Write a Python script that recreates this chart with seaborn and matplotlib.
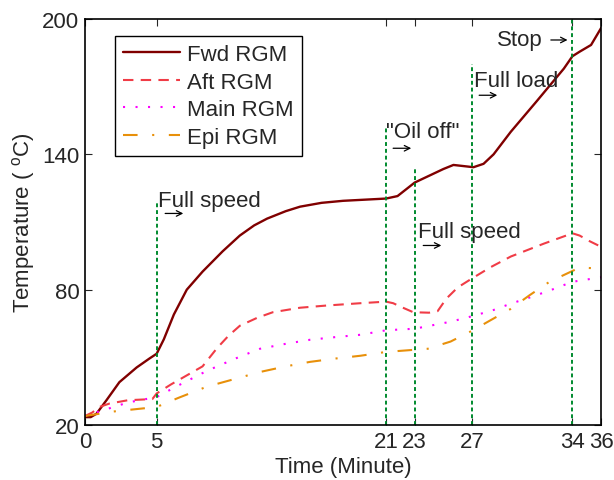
import numpy as np
import pandas as pd
import seaborn as sns
import matplotlib
matplotlib.use('Agg')
import matplotlib.pyplot as plt

# values (time in minutes, temperature in C)
fwd_t = [0, 0.4, 0.8, 1.5, 2.4, 3.6, 4.5, 5.0, 5.5, 6.2, 7.1, 8.2, 9.6, 10.8, 11.8, 12.7, 14.0, 15.0, 16.5, 18.0, 19.5, 21.0,
         21.8, 22.5, 23.0, 24.0, 25.0, 25.7, 26.4, 27.1, 27.8, 28.5, 29.7, 31.5, 33.4, 34.0, 34.5, 35.3, 36.0]
fwd_y = [23.5, 23.5, 25, 31, 39, 45.5, 49.5, 51.6, 58, 69, 80, 88, 97, 104, 108.5, 111.5, 114.8, 116.8, 118.5, 119.4, 119.9, 120.4,
         121.5, 125, 127.5, 130.5, 133.5, 135.3, 134.8, 134.3, 135.8, 140, 150, 163.5, 178, 183.5, 185.5, 188.5, 196]

aft_t = [0, 0.5, 1.0, 1.7, 3.0, 4.7, 5.0, 6.0, 7.1, 8.2, 9.2, 10.0, 10.8, 12.0, 13.1, 15.0, 16.9, 19.2, 21.0, 21.5, 22.0, 22.9,
         24.0, 24.6, 25.2, 26.0, 27.0, 28.3, 29.7, 32.0, 34.0, 34.5, 35.2, 36.0]
aft_y = [24, 25.5, 28, 29.5, 31, 31.5, 34, 38, 42, 46, 54, 59.5, 64, 67.5, 70, 72, 73, 74, 74.7, 74, 72.5, 70,
         69.8, 70.5, 76, 81, 85, 90, 94.7, 100.4, 105, 104, 101.5, 99]

main_t = [0, 0.5, 1.5, 3.0, 5.0, 6.5, 8.5, 10.5, 12.2, 14.0, 15.7, 17.5, 19.2, 21.0, 23.0, 25.5, 27.1, 28.5, 29.7, 31.0, 32.4, 34.0, 35.0, 36.0]
main_y = [24, 25, 27, 30, 32.4, 37.5, 44, 49.5, 53.8, 56, 57.8, 59, 60, 62, 62.7, 65.8, 68.4, 71, 73.8, 76.5, 79.6, 83.5, 84.5, 85.5]

epi_t = [0, 0.5, 2.0, 5.0, 6.5, 8.5, 10.5, 12.2, 14.0, 15.7, 17.5, 19.2, 21.0, 23.9, 25.5, 27.0, 28.3, 29.7, 31.0, 32.4, 34.5, 35.2, 36.0]
epi_y = [24, 24.5, 26, 28, 32, 37, 40.5, 43.5, 46, 48, 49.5, 50.7, 52.4, 53.8, 57, 61.8, 66.5, 71.5, 77.5, 83.5, 89.8, 89.6, 89.5]

events = [5, 21, 23, 27, 34]
event_tops = [119, 151.5, 134.5, 180, 200]
xticks = [0, 5, 21, 23, 27, 34, 36]
yticks = [20, 80, 140, 200]

sns.set_style("ticks")
plt.rcParams['font.family'] = ['Liberation Sans', 'DejaVu Sans']
plt.rcParams['mathtext.fontset'] = 'custom'
plt.rcParams['mathtext.rm'] = 'Liberation Sans'
plt.rcParams['mathtext.it'] = 'Liberation Sans'

fig = plt.figure(figsize=(6.14, 4.81), dpi=100)
ax = fig.add_axes([0.1384, 0.1143, 0.8406, 0.8441])

fs = 16
sns.lineplot(x=fwd_t, y=fwd_y, ax=ax, color='#800000', lw=1.7, label='Fwd RGM')
sns.lineplot(x=aft_t, y=aft_y, ax=ax, color='#F03C46', lw=1.5, label='Aft RGM')
sns.lineplot(x=main_t, y=main_y, ax=ax, color='#FF00FF', lw=1.5, label='Main RGM')
sns.lineplot(x=epi_t, y=epi_y, ax=ax, color='#E8900A', lw=1.5, label='Epi RGM')
lines = ax.get_lines()
lines[1].set_dashes([5, 3.5])
lines[2].set_dashes([1, 5])
lines[3].set_dashes([7, 7, 1, 7])

for t, top in zip(events, event_tops):
    ax.plot([t, t], [20, top], color='#008a2e', lw=1.4, ls=(0, (2, 1.5)))

# annotations: label text, then a short arrow beneath it
notes = [(5.1, 119.6, 'Full speed', 5.4, 113.8, 7.05),
         (21.0, 150.2, '"Oil off"', 21.3, 142.7, 22.95),
         (23.2, 105.8, 'Full speed', 23.4, 99.6, 25.05),
         (27.15, 172.9, 'Full load', 27.3, 166.2, 28.95)]
for x, y, txt, a0, ay, a1 in notes:
    ax.text(x, y, txt, fontsize=fs, ha='left', va='center')
    ax.annotate('', xy=(a1, ay), xytext=(a0, ay),
                arrowprops=dict(arrowstyle='->', color='black', lw=0.9))
ax.text(28.75, 190.7, 'Stop', fontsize=fs, ha='left', va='center')
ax.annotate('', xy=(33.85, 190.7), xytext=(32.3, 190.7),
            arrowprops=dict(arrowstyle='->', color='black', lw=0.9))

ax.set_xlim(0, 36)
ax.set_ylim(20, 200)
ax.set_xticks(xticks)
ax.set_yticks(yticks)
ax.tick_params(direction='in', top=True, right=True, labelsize=fs, length=5, width=0.8, pad=4)
for s in ax.spines.values():
    s.set_linewidth(1.2)
    s.set_color('black')
ax.set_xlabel('Time (Minute)', fontsize=fs, labelpad=3)
ax.set_ylabel('Temperature ( $^{\\rm o}$C)', fontsize=fs, labelpad=4)

leg = ax.legend(loc='upper left', bbox_to_anchor=(0.058, 0.958), borderaxespad=0,
                fontsize=fs, handlelength=2.6, fancybox=False, framealpha=1,
                edgecolor='black', labelspacing=0.3, handletextpad=0.3, borderpad=0.35)
leg.get_frame().set_linewidth(1.0)

fig.savefig('out.png', dpi=100)
